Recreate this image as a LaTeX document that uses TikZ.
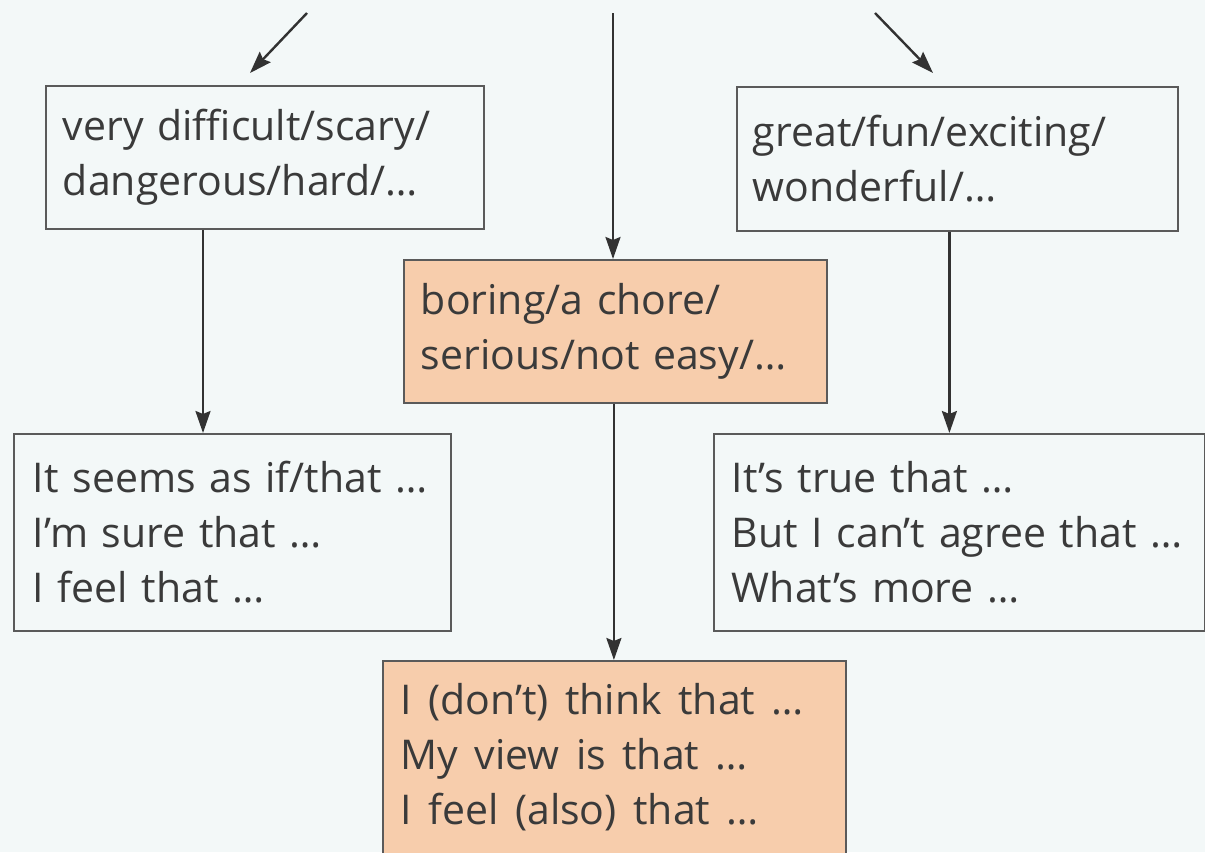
\documentclass[tikz,border=0pt]{standalone}
\usepackage{fontspec}
\setmainfont[WordSpace=1.55]{Open Sans}
\usetikzlibrary{arrows.meta}
\definecolor{bg}{RGB}{243,248,248}
\definecolor{peach}{RGB}{247,205,172}
\definecolor{ink}{RGB}{58,58,58}
\definecolor{edge}{RGB}{90,90,90}
\definecolor{arrink}{RGB}{50,50,50}
\newcommand{\dd}{\mbox{…}}
\begin{document}
\begin{tikzpicture}[x=0.5pt,y=-0.5pt,
  box/.style={draw=edge, line width=0.9pt, anchor=north west, inner ysep=0pt,
    text=ink, font=\fontsize{20.5}{27.5}\selectfont, align=left},
  txt/.style={text=ink, font=\fontsize{20.5}{27.5}\selectfont, align=left, inner sep=0pt},
  arr/.style={draw=arrink, line width=1.2pt, -{Stealth[length=11pt,width=7.5pt,inset=1.5pt]}}]
\useasboundingbox (0,0) rectangle (1205,852);
\fill[bg] (0,0) rectangle (1205,852);
% boxes
\node[box, minimum height=71.5pt, inner xsep=8.5pt, text width=202pt] (A) at (45,85)
  {\mbox{very difficult/scary/}\\\mbox{dangerous/hard/\dd}};
\node[box, minimum height=72pt, inner xsep=8pt, text width=204.5pt] (B) at (736,86)
  {\mbox{great/fun/exciting/}\\\mbox{wonderful/\dd}};
\node[box, fill=peach, minimum height=71.5pt, inner xsep=8.5pt, text width=194.5pt] (C) at (403,259)
  {\mbox{boring/a chore/}\\\mbox{serious/not easy/\dd}};
\node[box, minimum height=98.5pt, inner xsep=9.5pt, text width=199.5pt] (D) at (13,433)
  {\mbox{It seems as if/that \dd}\\\mbox{I’m sure that \dd}\\\mbox{I feel that \dd}};
\node[box, minimum height=98.5pt, inner xsep=9pt, text width=227.5pt] (E) at (713,433)
  {\mbox{It’s true that \dd}\\\mbox{But I can’t agree that \dd}\\\mbox{What’s more \dd}};
\node[box, fill=peach, minimum height=130pt, minimum width=231.5pt, inner xsep=0pt] (F) at (382,660) {};
\node[txt, anchor=north west] (Ft) at (400,683)
  {I (don’t) think that \dd\\My view is that \dd\\I feel (also) that \dd};
% free ends
\coordinate (tl) at (307,13);
\coordinate (tlend) at (250,73);
\coordinate (tr) at (875,13);
\coordinate (trend) at (933,73);
\coordinate (tc) at (613,13);
% connectors
\draw[arr] (tl) -- (tlend);
\draw[arr] (tr) -- (trend);
\draw[arr] (tc) -- (tc |- C.north);
\draw[arr] ([xshift=79pt]A.south west) -- ([xshift=79pt]A.south west |- D.north);
\draw[arr] ([xshift=-4pt]B.south) -- ([xshift=-4pt]B.south |- E.north);
\draw[arr] ([xshift=-0.75pt]C.south) -- ([xshift=-0.75pt]C.south |- F.north);
\end{tikzpicture}
\end{document}
